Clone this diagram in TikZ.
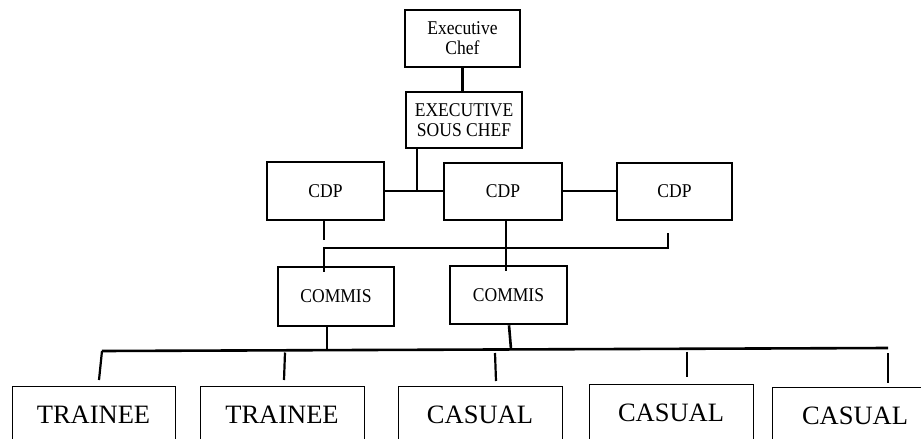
\documentclass[tikz,border=0pt]{standalone}
\usepackage{fontspec}
\setmainfont{Liberation Serif}
\newfontfamily\narrowserif[FakeStretch=0.9]{Liberation Serif}
\usetikzlibrary{calc}
\begin{document}
\begin{tikzpicture}[x=1pt,y=-1pt,
  box/.style={draw,line width=2.6pt,inner sep=0pt,align=center,
    font=\narrowserif\fontsize{19.5}{20}\selectfont},
  leaf/.style={draw,line width=1pt,inner sep=0pt,anchor=north,
    minimum width=164pt,minimum height=56pt,
    font=\fontsize{26.5}{30}\selectfont},
  conn/.style={line width=2.6pt},
  thin/.style={line width=2.2pt}]
\useasboundingbox (0,0) rectangle (921,439);
\clip (0,0) rectangle (921,439);
% boxes
\node[box,minimum width=115pt,minimum height=57pt] (exec) at (462.5,38.5) {Executive\\Chef};
\node[box,minimum width=116pt,minimum height=56pt] (sous) at (464,120) {EXECUTIVE\\SOUS CHEF};
\node[box,minimum width=117pt,minimum height=58pt] (cdp1) at (325.5,191) {CDP};
\node[box,minimum width=118pt,minimum height=57pt] (cdp2) at (503,191.5) {CDP};
\node[box,minimum width=115pt,minimum height=57pt] (cdp3) at (674.5,191.5) {CDP};
\node[box,minimum width=116pt,minimum height=59pt] (com1) at (336,296.5) {COMMIS};
\node[box,minimum width=117pt,minimum height=58pt] (com2) at (508.5,295) {COMMIS};
\node[leaf,minimum width=163pt] (t1) at (93.5,386) {TRAINEE};
\node[leaf] (t2) at (282,386) {TRAINEE};
\node[leaf] (c1) at (480,386) {CASUAL};
\node[leaf] (c2) at (671,384) {CASUAL};
\node[leaf,minimum width=166pt] (c3) at (855,387) {CASUAL};
% top connectors
\draw[conn] (exec.south) -- (exec.south |- sous.north);
\coordinate (j1) at (417,191);
\draw[conn] (sous.south -| j1) -- (j1) -- (cdp2.west |- j1);
\draw[conn] (cdp1.east |- j1) -- (j1);
\draw[conn] (cdp2.east |- j1) -- (cdp3.west |- j1);
% CDP to commis
\coordinate (k1) at (324,240);
\draw[conn] (cdp1.south -| k1) -- (k1);
\coordinate (m1) at (324,248);
\coordinate (m2) at (506,248);
\coordinate (m3) at (668,248);
\coordinate (m3t) at (668,233);
\draw[conn] (m3t) -- (m3) -- (m1) -- ($(com1.north -| m1)+(0,6)$);
\draw[conn] (cdp2.south -| m2) -- ($(com2.north -| m2)+(0,6)$);
% commis to bottom bus
\coordinate (busL) at (102,351);
\coordinate (busR) at (888,348);
\draw[conn] (busL) -- (busR);
\coordinate (p1) at (327,349.6);
\coordinate (p2) at (511,348.9);
\draw[conn] (com1.south -| p1) -- (p1);
\draw[conn] ($(com2.south)+(0.5,0)$) -- (p2);
% stubs
\coordinate (s1) at (99,380);
\coordinate (b2) at (285,352.5); \coordinate (s2) at (284,380);
\coordinate (b3) at (495,353);   \coordinate (s3) at (496,381);
\coordinate (b4) at (687,351.5); \coordinate (s4) at (687,377);
\coordinate (b5) at (888,353);   \coordinate (s5) at (888,383);
\draw[thin] (busL) -- (s1);
\draw[thin] (b2) -- (s2);
\draw[thin] (b3) -- (s3);
\draw[thin] (b4) -- (s4);
\draw[thin] (b5) -- (s5);
\end{tikzpicture}
\end{document}
